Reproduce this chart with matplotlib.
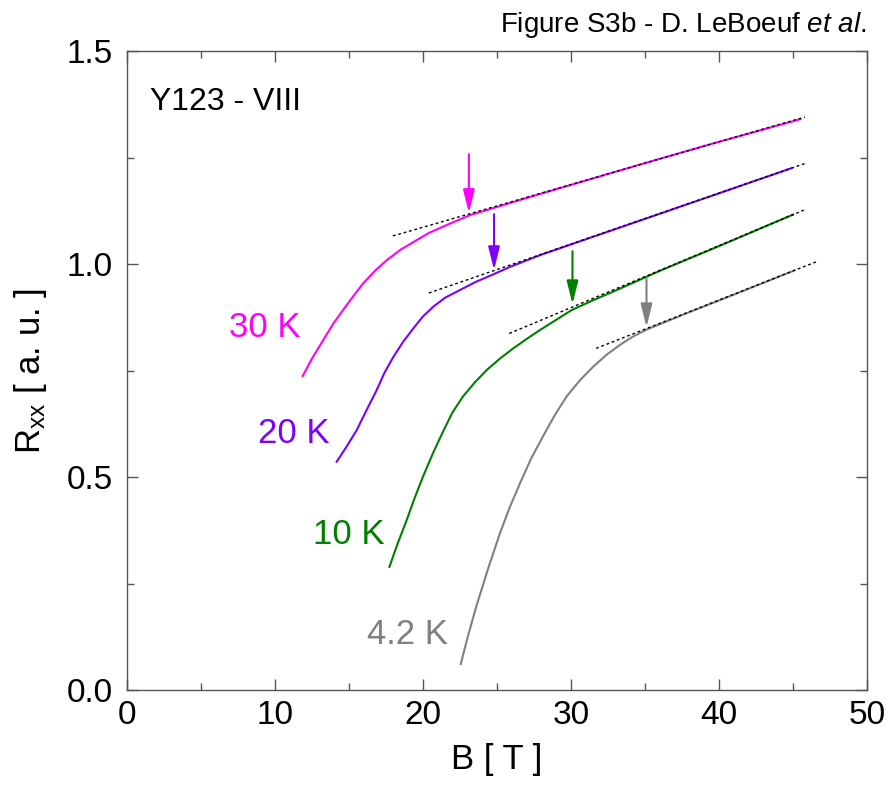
import matplotlib
matplotlib.use('Agg')
import matplotlib.pyplot as plt

# Field (T) and resistance (a.u.)
b_30k = [11.87, 12.5, 13.27, 13.9, 14.6, 15.3, 15.97, 16.75, 17.55, 18.5, 19.57, 20.4,
         21.37, 22.3, 23.2, 27.0, 31.0, 35.0, 39.6, 45.5]
r_30k = [0.737, 0.778, 0.822, 0.858, 0.892, 0.925, 0.955, 0.984, 1.009, 1.034, 1.056, 1.073,
         1.088, 1.102, 1.115, 1.155, 1.196, 1.237, 1.283, 1.340]

b_20k = [14.17, 14.85, 15.52, 16.2, 16.87, 17.4, 18.0, 18.65, 19.35, 20.0, 20.7, 21.5,
         22.5, 23.5, 24.5, 26.0, 28.0, 32.0, 36.0, 40.0, 44.9]
r_20k = [0.536, 0.572, 0.610, 0.658, 0.704, 0.745, 0.782, 0.817, 0.849, 0.877, 0.900, 0.921,
         0.939, 0.957, 0.972, 0.995, 1.022, 1.070, 1.118, 1.166, 1.225]

b_10k = [17.73, 18.3, 18.9, 19.45, 20.0, 20.7, 21.4, 22.0, 22.7, 23.5, 24.3, 25.2, 26.1,
         27.0, 27.9, 29.0, 30.05, 31.5, 32.9, 36.0, 40.0, 45.0]
r_10k = [0.289, 0.345, 0.399, 0.452, 0.501, 0.558, 0.610, 0.652, 0.689, 0.722, 0.751, 0.778,
         0.802, 0.824, 0.845, 0.869, 0.892, 0.915, 0.936, 0.984, 1.042, 1.116]

b_4k = [22.55, 23.05, 23.6, 24.4, 25.2, 25.85, 26.55, 27.3, 28.1, 28.9, 29.7, 30.6, 31.5,
        32.4, 33.3, 34.2, 35.1, 38.0, 41.0, 45.1]
r_4k = [0.061, 0.128, 0.196, 0.285, 0.368, 0.428, 0.485, 0.543, 0.595, 0.645, 0.689, 0.727,
        0.759, 0.787, 0.810, 0.830, 0.846, 0.887, 0.928, 0.985]

# linear high-field fits (dotted)
fit_b = [[17.97, 45.8], [20.4, 45.9], [25.83, 45.9], [31.7, 46.7]]
fit_r = [[1.066, 1.345], [0.932, 1.237], [0.837, 1.129], [0.802, 1.007]]

# arrows marking the onset: x, top, tip
arrow_b = [23.1, 24.8, 30.1, 35.1]
arrow_top = [1.258, 1.117, 1.030, 0.965]
arrow_tip = [1.120, 0.986, 0.906, 0.852]

labels = ['30 K', '20 K', '10 K', '4.2 K']
label_b = [11.7, 13.7, 17.4, 21.7]
label_r = [0.852, 0.603, 0.364, 0.131]
colors = ['#ff00ff', '#8000ff', '#008000', '#808080']

plt.rcParams['font.family'] = ['Liberation Sans', 'DejaVu Sans']
plt.rcParams['mathtext.fontset'] = 'custom'
plt.rcParams['mathtext.rm'] = 'Liberation Sans'
plt.rcParams['mathtext.it'] = 'Liberation Sans:italic'

fig = plt.figure(figsize=(8.91, 7.85), dpi=100)
ax = fig.add_axes([0.1425, 0.121, 0.8306, 0.814])

curves = [(b_30k, r_30k), (b_20k, r_20k), (b_10k, r_10k), (b_4k, r_4k)]
for i, (b, r) in enumerate(curves):
    ax.plot(b, r, color=colors[i], lw=1.5)
    ax.plot(fit_b[i], fit_r[i], color='black', lw=1.0, dashes=(2, 2))
    ax.annotate('', xy=(arrow_b[i], arrow_tip[i]), xytext=(arrow_b[i], arrow_top[i]),
                arrowprops=dict(arrowstyle='-|>,head_length=1.4,head_width=0.35',
                                mutation_scale=10, color=colors[i], lw=1.5,
                                shrinkA=0, shrinkB=0))
    ax.text(label_b[i], label_r[i], labels[i], color=colors[i], fontsize=25,
            ha='right', va='center')

ax.text(1.55, 1.38, 'Y123 - VIII', fontsize=23, ha='left', va='center')

ax.set_xlim(0, 50)
ax.set_ylim(0, 1.5)
ax.set_xticks([0, 10, 20, 30, 40, 50])
ax.set_xticks([5, 15, 25, 35, 45], minor=True)
ax.set_yticks([0.0, 0.5, 1.0, 1.5])
ax.set_yticklabels(['0.0', '0.5', '1.0', '1.5'])
ax.set_yticks([0.25, 0.75, 1.25], minor=True)
ax.tick_params(which='both', direction='in', top=True, right=True,
               labelsize=24, color='#555555')
ax.tick_params(which='major', length=8, width=1)
ax.tick_params(which='minor', length=5, width=1)
ax.tick_params(axis='x', pad=7)
ax.tick_params(axis='y', pad=10)
for s in ax.spines.values():
    s.set_color('#555555')
    s.set_linewidth(1)

ax.set_xlabel('B [ T ]', fontsize=25, labelpad=9)
ax.set_ylabel(r'R$_{\mathrm{xx}}$ [ a. u. ]', fontsize=25, labelpad=13)

fig.text(0.972, 0.959, 'Figure S3b - D. LeBoeuf $\\mathit{et\\ al.}$', fontsize=20,
         ha='right', va='baseline')

fig.savefig('out.png', dpi=100)
